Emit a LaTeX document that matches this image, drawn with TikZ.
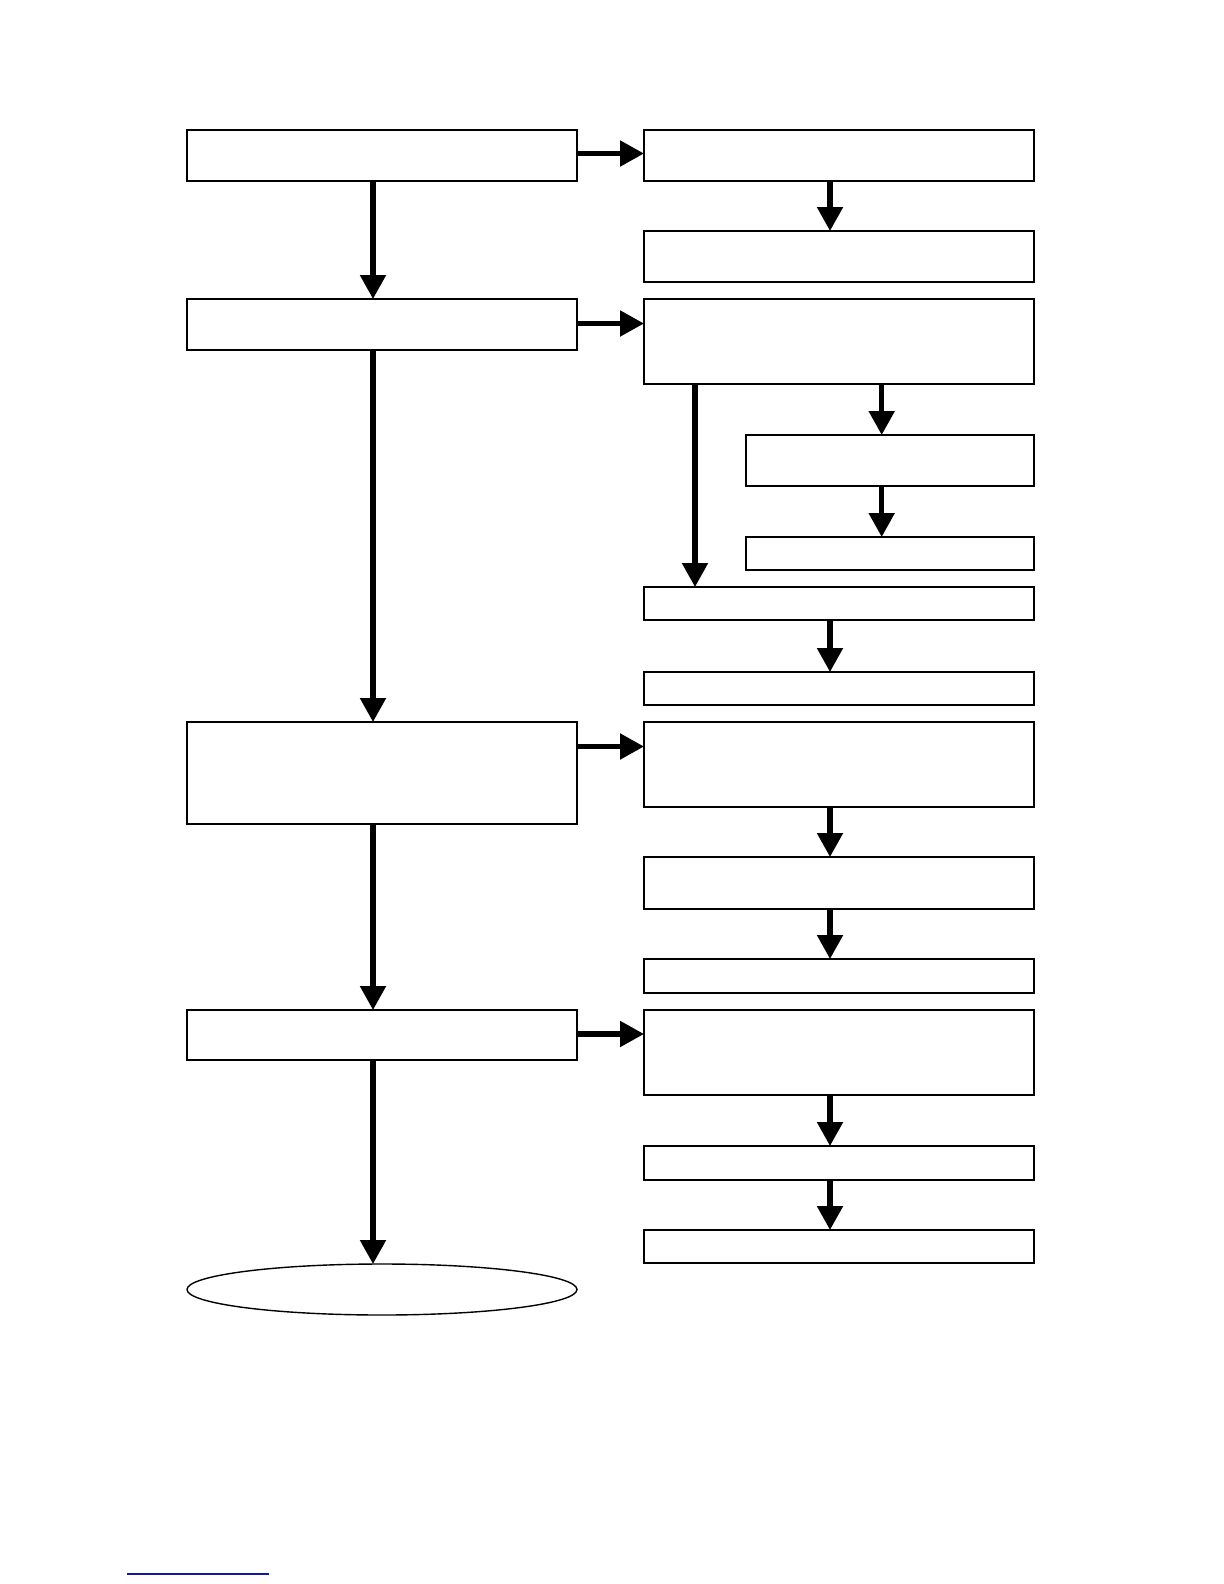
\documentclass[tikz,border=0pt]{standalone}
\usetikzlibrary{arrows.meta,fit,shapes.geometric}
\definecolor{linkblue}{RGB}{20,20,170}
\begin{document}
\begin{tikzpicture}[x=0.5pt,y=-0.5pt,
  box/.style={draw,line width=0.7pt,inner sep=0pt,outer sep=0pt},
  arr/.style={line width=2.6pt,-{Triangle[length=12pt,width=12.5pt]},shorten >=0pt}]
\useasboundingbox (0,0) rectangle (1224,1584);
% left column
\node[box,fit={(187,130) (577,181)}] (L1) {};
\node[box,fit={(187,299) (577,350)}] (L2) {};
\node[box,fit={(187,722) (577,824)}] (L3) {};
\node[box,fit={(187,1010) (577,1060)}] (L4) {};
\node[draw,ellipse,line width=0.7pt,inner sep=0pt,outer sep=0pt,minimum width=195pt,minimum height=25.5pt] (E) at (382,1289.5) {};
% right column
\node[box,fit={(644,130) (1034,181)}] (R1) {};
\node[box,fit={(644,231) (1034,282)}] (R2) {};
\node[box,fit={(644,299) (1034,384)}] (R3) {};
\node[box,fit={(746,435) (1034,486)}] (S1) {};
\node[box,fit={(746,537) (1034,570)}] (S2) {};
\node[box,fit={(644,587) (1034,620)}] (R4) {};
\node[box,fit={(644,672) (1034,705)}] (R5) {};
\node[box,fit={(644,722) (1034,807)}] (R6) {};
\node[box,fit={(644,857) (1034,909)}] (R7) {};
\node[box,fit={(644,959) (1034,993)}] (R8) {};
\node[box,fit={(644,1010) (1034,1095)}] (R9) {};
\node[box,fit={(644,1146) (1034,1180)}] (R10) {};
\node[box,fit={(644,1230) (1034,1263)}] (R11) {};
% reference coordinates
\coordinate (xL) at (373,0);
\coordinate (xR) at (830,0);
\coordinate (xS) at (881.7,0);
\coordinate (xT) at (695,0);
\coordinate (y1) at (0,153.5);
\coordinate (y2) at (0,323.5);
\coordinate (y3) at (0,746.5);
\coordinate (y4) at (0,1034);
% left vertical arrows
\draw[arr] (L1.south -| xL) -- (L2.north -| xL);
\draw[arr] (L2.south -| xL) -- (L3.north -| xL);
\draw[arr] (L3.south -| xL) -- (L4.north -| xL);
\draw[arr] (L4.south -| xL) -- (E.north -| xL);
% horizontal arrows
\draw[arr] (L1.east |- y1) -- (R1.west |- y1);
\draw[arr] (L2.east |- y2) -- (R3.west |- y2);
\draw[arr] (L3.east |- y3) -- (R6.west |- y3);
\draw[arr] (L4.east |- y4) -- (R9.west |- y4);
% right vertical arrows
\draw[arr] (R1.south -| xR) -- (R2.north -| xR);
\draw[arr] (R3.south -| xS) -- (S1.north -| xS);
\draw[arr] (S1.south -| xS) -- (S2.north -| xS);
\draw[arr] (R3.south -| xT) -- (R4.north -| xT);
\draw[arr] (R4.south -| xR) -- (R5.north -| xR);
\draw[arr] (R6.south -| xR) -- (R7.north -| xR);
\draw[arr] (R7.south -| xR) -- (R8.north -| xR);
\draw[arr] (R9.south -| xR) -- (R10.north -| xR);
\draw[arr] (R10.south -| xR) -- (R11.north -| xR);
% blue rule at bottom
\draw[linkblue,line width=0.65pt] (127,1574) -- (269,1574);
\end{tikzpicture}
\end{document}
